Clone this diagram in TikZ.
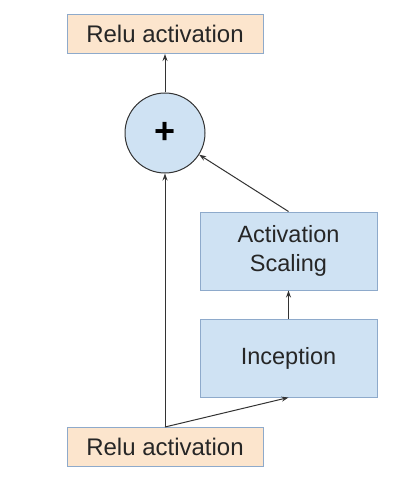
\documentclass[tikz,border=0pt]{standalone}
\usepackage{fontspec}
\setmainfont{Liberation Sans}
\usetikzlibrary{arrows.meta}
\definecolor{peach}{HTML}{FCE5CD}
\definecolor{lblue}{HTML}{CFE2F3}
\definecolor{bborder}{HTML}{8EAACB}
\definecolor{lineg}{HTML}{333333}
\begin{document}
\begin{tikzpicture}[x=1pt,y=-1pt,
  relubox/.style={draw=bborder,line width=1pt,fill=peach,minimum width=196pt,minimum height=39pt,inner sep=0pt,font=\fontsize{24}{28}\selectfont,text=black!85},
  blockbox/.style={draw=bborder,line width=1pt,fill=lblue,minimum width=177pt,minimum height=78pt,inner sep=0pt,align=center,font=\fontsize{23.5}{29}\selectfont,text=black!85},
  sumnode/.style={circle,draw=lineg,line width=1pt,fill=lblue,minimum size=80pt,inner sep=0pt},
  conn/.style={draw=lineg,line width=1pt,-{Stealth[length=7pt,width=5pt]}}]
\useasboundingbox (0,0) rectangle (416,481);
\node[relubox] (top) at (165,34) {Relu activation};
\node[sumnode] (sum) at (165,133) {\fontsize{36}{36}\selectfont\bfseries +};
\node[blockbox] (scale) at (288.5,251) {Activation\\Scaling};
\node[blockbox] (incep) at (288.5,358) {Inception};
\node[relubox] (bot) at (165,447) {Relu activation};
\coordinate (split) at (bot.north);
\draw[conn] (sum) -- (top);
\draw[conn] (split) -- (sum);
\draw[conn] (split) -- (incep.south);
\draw[conn] (incep) -- (scale);
\draw[conn] (scale.north) -- (sum);
\end{tikzpicture}
\end{document}
